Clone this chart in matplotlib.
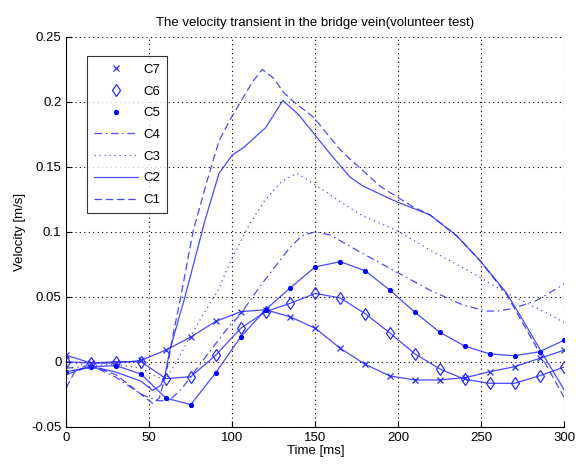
import numpy as np
import matplotlib
matplotlib.use("Agg")
import matplotlib.pyplot as plt

plt.rcParams['font.family'] = ['Liberation Sans', 'DejaVu Sans']

# ---- data ----
t15 = [0, 15, 30, 45, 60, 75, 90, 105, 120, 135, 150, 165, 180, 195, 210, 225, 240, 255, 270, 285, 300]

c7_v = [0.005, -0.001, -0.001, 0.001, 0.009, 0.019, 0.031, 0.0385, 0.040, 0.0345, 0.0257, 0.0103,
        -0.002, -0.011, -0.014, -0.014, -0.0123, -0.0077, -0.0038, 0.0026, 0.009]
c6_v = [0.0, -0.001, 0.0, 0.0, -0.013, -0.0115, 0.005, 0.0257, 0.0385, 0.045, 0.0526, 0.049,
        0.037, 0.022, 0.006, -0.0056, -0.0135, -0.0166, -0.0166, -0.0108, -0.004]
c5_v = [-0.0077, -0.004, -0.003, -0.0095, -0.028, -0.033, -0.0085, 0.019, 0.040, 0.057, 0.073, 0.077,
        0.070, 0.055, 0.038, 0.0226, 0.012, 0.006, 0.0046, 0.0077, 0.0167]

c4_t = [0, 15, 30, 45, 55, 62, 70, 80, 93, 98.6, 104, 116.7, 125, 134.8, 142, 150, 158.9, 178.9,
        199, 219, 239, 253, 260, 269, 283, 300]
c4_v = [-0.005, -0.003, -0.012, -0.025, -0.03, -0.03, -0.02, -0.003, 0.019, 0.028, 0.035, 0.058,
        0.072, 0.088, 0.097, 0.1, 0.0975, 0.083, 0.069, 0.055, 0.0436, 0.039, 0.039, 0.041, 0.047, 0.06]

c3_t = [0, 15, 30, 45, 55, 60, 66.5, 75, 86.5, 90.6, 100, 110, 120, 130, 138.8, 145, 154.8, 169.9,
        178.9, 199, 219, 245, 265, 290, 300]
c3_v = [0.0, -0.003, -0.002, -0.005, -0.012, -0.013, 0.0, 0.02, 0.045, 0.053, 0.08, 0.105, 0.125,
        0.139, 0.145, 0.14, 0.132, 0.119, 0.112, 0.101, 0.086, 0.068, 0.053, 0.037, 0.03]

c2_t = [0, 10, 20, 30, 45, 52, 57, 59.5, 62.4, 71.5, 83.6, 92, 100, 107, 114.7, 120, 125, 130.4,
        140, 148.8, 158.9, 170.9, 178.9, 199, 219, 235, 249, 265, 275, 285, 300]
c2_v = [-0.01, -0.005, -0.005, -0.008, -0.015, -0.022, -0.018, -0.01, 0.009, 0.05, 0.109, 0.145,
        0.159, 0.165, 0.174, 0.18, 0.19, 0.201, 0.19, 0.176, 0.160, 0.142, 0.135, 0.123, 0.113,
        0.097, 0.078, 0.053, 0.032, 0.01, -0.022]

c1_t = [0, 5, 15, 30, 40, 52, 56, 60, 64.5, 68.5, 76.5, 85, 92, 98.6, 105, 112, 118, 125, 131,
        137, 149, 165, 170, 189, 209, 219, 235, 249, 265, 281, 300]
c1_v = [-0.02, -0.008, -0.003, -0.01, -0.02, -0.032, -0.028, -0.01, 0.022, 0.047, 0.101, 0.14,
        0.17, 0.186, 0.2, 0.215, 0.225, 0.218, 0.207, 0.2, 0.188, 0.163, 0.157, 0.135, 0.119,
        0.113, 0.097, 0.078, 0.052, 0.016, -0.028]

xticks = [0, 50, 100, 150, 200, 250, 300]
yticks = [-0.05, 0, 0.05, 0.1, 0.15, 0.2, 0.25]
ytick_labels = ['-0.05', '0', '0.05', '0.1', '0.15', '0.2', '0.25']

# ---- figure ----
col = '#2a2aff'
fig = plt.figure(figsize=(5.76, 4.66), dpi=100)
ax = fig.add_axes([0.115, 0.0843, 0.865, 0.8367])

lw = 0.9
ax.plot(t15, c7_v, '-', color=col, lw=lw, alpha=0.85)
ax.plot(t15, c6_v, '-', color=col, lw=lw, alpha=0.85)
ax.plot(t15, c5_v, '-', color=col, lw=lw, alpha=0.85)
h7, = ax.plot(t15, c7_v, 'x', color=col, ms=4.5, mew=0.9, linestyle='none', label='C7')
h6, = ax.plot(t15, c6_v, 'd', color=col, ms=6.5, mew=0.9, mfc='none', linestyle='none', label='C6')
h5, = ax.plot(t15, c5_v, '.', color='#0000ff', ms=5.5, linestyle='none', label='C5')
h4, = ax.plot(c4_t, c4_v, color=col, lw=lw, alpha=0.85, dashes=[6, 3, 1.2, 3], label='C4')
h3, = ax.plot(c3_t, c3_v, color=col, lw=lw, alpha=0.85, dashes=[1, 3], label='C3')
h2, = ax.plot(c2_t, c2_v, '-', color=col, lw=lw, alpha=0.85, label='C2')
h1, = ax.plot(c1_t, c1_v, color=col, lw=lw, alpha=0.85, dashes=[6, 3], label='C1')

ax.set_xlim(0, 300)
ax.set_ylim(-0.05, 0.25)
ax.set_xticks(xticks)
ax.set_yticks(yticks)
ax.set_yticklabels(ytick_labels)
ax.tick_params(direction='in', labelsize=9.5, length=4, top=False, right=False)
ax.grid(True, color='black', linestyle=(0, (1, 3)), linewidth=0.8)
ax.spines['top'].set_visible(False)
ax.spines['right'].set_visible(False)

ax.set_title('The velocity transient in the bridge vein(volunteer test)', fontsize=9.5, pad=8)
ax.set_xlabel('Time [ms]', fontsize=9.5, labelpad=1)
ax.set_ylabel('Velocity [m/s]', fontsize=9.5, labelpad=4)

leg = ax.legend(handles=[h7, h6, h5, h4, h3, h2, h1], loc='upper left',
                bbox_to_anchor=(0.042, 0.95), borderaxespad=0, fontsize=9.5, frameon=True,
                fancybox=False, edgecolor='black', handlelength=3.3, labelspacing=0.72,
                borderpad=0.55, handletextpad=0.4)
leg.get_frame().set_linewidth(0.8)

fig.savefig('out.png', dpi=100)
